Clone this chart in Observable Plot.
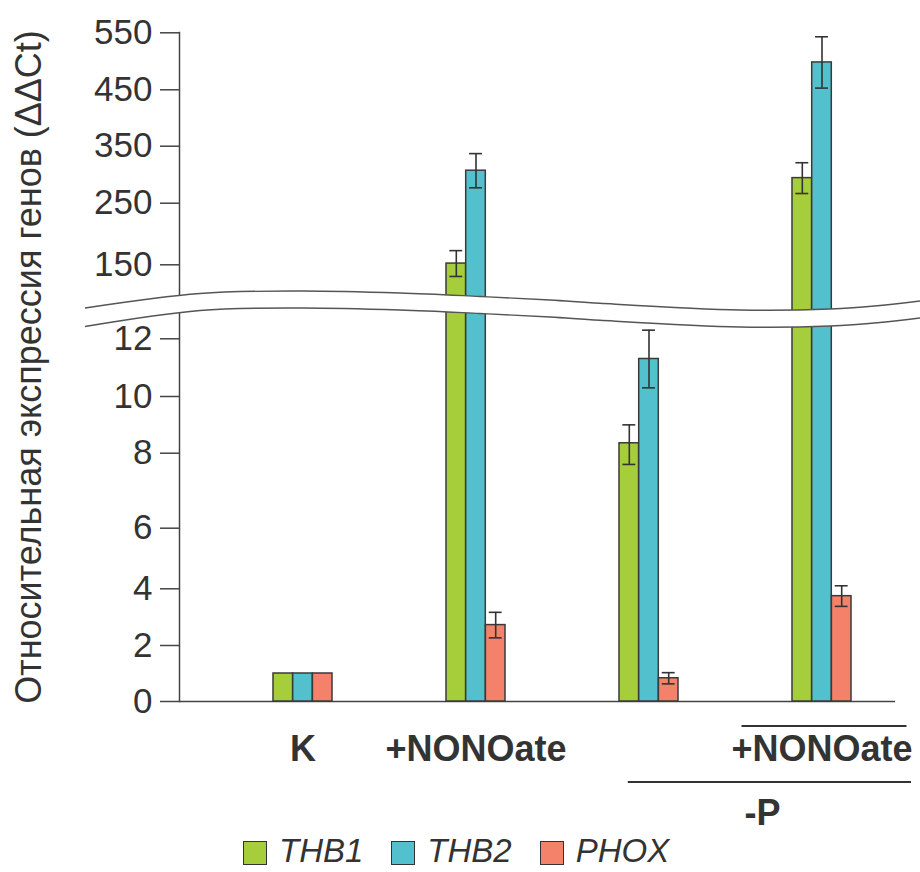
<!DOCTYPE html>
<html>
<head>
<meta charset="utf-8">
<script src="https://cdn.jsdelivr.net/npm/d3@7"></script>
<script src="https://cdn.jsdelivr.net/npm/@observablehq/plot@0.6"></script>
<style>
  html, body { margin: 0; padding: 0; background: #fff; }
  #wrap { position: relative; width: 920px; height: 872px; font-family: "Liberation Sans", Arial, sans-serif; color: #333; }
  #legend { position: absolute; left: 243px; top: 836px; height: 30px; line-height: 30px; display: flex; align-items: center; font-size: 33px; font-style: italic; color: #333; }
  .item { display: flex; align-items: center; margin-right: 28px; height: 30px; }
  .sw { width: 24px; height: 24px; box-sizing: border-box; border: 1.5px solid #333; margin-right: 12px; margin-top: 3px; }
</style>
</head>
<body>
<div id="wrap"><div id="chart"></div><div id="legend"></div></div>
<script>
// ---- data ----
const groups = ["K", "+NONOate", "-P", "-P+NONOate"];
const groupLabels = ["K", "+NONOate", "", "+NONOate"];
const genes = ["THB1", "THB2", "PHOX"];
const geneColors = ["#a6cd3a", "#52c1cd", "#f4826b"];
const thb1 = [1.0, 152, 8.35, 294];
const thb1Err = [0, 21, 0.65, 27];
const thb2 = [1.0, 307, 11.3, 498];
const thb2Err = [0, 30, 1.0, 45];
const phox = [1.0, 2.72, 0.83, 3.74];
const phoxErr = [0, 0.45, 0.2, 0.36];
const yTicks = [0, 2, 4, 6, 8, 10, 12, 150, 250, 350, 450, 550];
const yLabel = "Относительная экспрессия генов (ΔΔCt)";

// broken (piecewise) y axis
const yDomain = [0, 2, 4, 6, 8, 10, 12, 13, 100, 150, 250, 350, 450, 550];
const yRange  = [701, 645, 588.3, 527.7, 452.7, 396, 338.3, 309.5, 295, 264.3, 202.7, 145.7, 89.3, 32.3];

const values = [thb1, thb2, phox];
const errs = [thb1Err, thb2Err, phoxErr];
const rows = [];
genes.forEach((g, gi) => groups.forEach((grp, i) => rows.push({gene: g, gi, group: grp, value: values[gi][i], err: errs[gi][i]})));

// layout
const barW = 19.7;
const bandW = 3 * barW;
const xRange = [271, 852];
const step = (xRange[1] - xRange[0] - bandW) / (groups.length - 1);
const padInner = 1 - bandW / step;
const capHalf = 6.5;

const marks = [
  Plot.axisY({ticks: yTicks, tickSize: 19, tickPadding: 8, fontSize: 35, label: null, stroke: "#444", strokeWidth: 1.5}),
  Plot.frame({anchor: "left", stroke: "#444", strokeWidth: 1.5}),
  Plot.ruleY([0], {stroke: "#444", strokeWidth: 1.5}),
  Plot.text([yLabel], {frameAnchor: "left", dx: -150, rotate: -90, fontSize: 36, fill: "#333", lineAnchor: "middle", textAnchor: "middle"}),
  Plot.text(groups, {x: d => d, text: (d, i) => groupLabels[i], frameAnchor: "bottom", dy: 34, lineAnchor: "top", fontSize: 36, fontWeight: "bold", fill: "#333"})
];
genes.forEach((g, gi) => {
  const data = rows.filter(r => r.gi === gi);
  const withErr = data.filter(r => r.err > 0);
  marks.push(Plot.barY(data, {x: "group", y: "value", fill: geneColors[gi], stroke: "#3a3a3a", strokeWidth: 1.5,
    insetLeft: gi * barW, insetRight: (2 - gi) * barW}));
  marks.push(Plot.ruleX(withErr, {x: "group", y1: d => d.value - d.err, y2: d => d.value + d.err, dx: (gi - 1) * barW, stroke: "#333", strokeWidth: 1.6}));
  for (const sign of [-1, 1]) {
    marks.push(Plot.tickY(withErr, {x: "group", y: d => d.value + sign * d.err, stroke: "#333", strokeWidth: 1.6,
      insetLeft: (gi + 0.5) * barW - capHalf, insetRight: (2.5 - gi) * barW - capHalf}));
  }
});

const plot = Plot.plot({
  width: 920, height: 836,
  marginLeft: 179, marginRight: 25, marginTop: 32, marginBottom: 135,
  style: {fontFamily: "'Liberation Sans', Arial, sans-serif", color: "#333", background: "transparent", overflow: "visible"},
  x: {type: "band", domain: groups, range: xRange, paddingInner: padInner, paddingOuter: 0, axis: null},
  y: {type: "linear", domain: yDomain, range: yRange},
  marks
});
document.getElementById("chart").appendChild(plot);

// annotations under the x axis, placed from the x scale
const svg = d3.select(plot);
const xs = plot.scale("x");
const bw = xs.bandwidth;
const c3 = xs.apply("-P") + bw / 2;
const c4 = xs.apply("-P+NONOate") + bw / 2;
const ann = svg.append("g").attr("stroke", "#333").attr("stroke-width", 2);
ann.append("line").attr("x1", c4 - 80).attr("x2", c4 + 85).attr("y1", 726).attr("y2", 726);
const l1 = c3 - 20.7, l2 = c4 + 89.5;
ann.append("line").attr("x1", l1).attr("x2", l2).attr("y1", 782).attr("y2", 782);
svg.append("text").attr("x", (l1 + l2) / 2 - 7).attr("y", 825).attr("text-anchor", "middle")
  .attr("font-size", 36).attr("font-weight", "bold").attr("fill", "#333")
  .attr("font-family", "'Liberation Sans', Arial, sans-serif").text("-P");

// axis break (wavy white band)
const topPts = [[85, 308], [200, 293.5], [300, 291], [400, 293], [480, 296.5], [550, 300], [600, 303.3], [740, 310], [830, 309], [880, 305.5], [920, 301]];
const thick = 17;
const botPts = topPts.map(([x, y]) => [x, y + thick + (x < 200 ? (200 - x) / 115 * 1.5 : 0)]);
const lineGen = d3.line().curve(d3.curveCatmullRom);
const brk = svg.append("g");
const area = d3.area().curve(d3.curveCatmullRom).x(d => d[0]).y0(d => d[1]).y1((d, i) => botPts[i][1]);
brk.append("path").attr("d", area(topPts)).attr("fill", "#fff").attr("stroke", "none");
brk.append("path").attr("d", lineGen(topPts)).attr("fill", "none").attr("stroke", "#555").attr("stroke-width", 1.4);
brk.append("path").attr("d", lineGen(botPts)).attr("fill", "none").attr("stroke", "#555").attr("stroke-width", 1.4);

// legend
const legend = document.getElementById("legend");
genes.forEach((g, i) => {
  const it = document.createElement("div");
  it.className = "item";
  const sw = document.createElement("div");
  sw.className = "sw";
  sw.style.background = geneColors[i];
  const t = document.createElement("span");
  t.textContent = g;
  it.appendChild(sw); it.appendChild(t);
  legend.appendChild(it);
});
</script>
</body>
</html>
